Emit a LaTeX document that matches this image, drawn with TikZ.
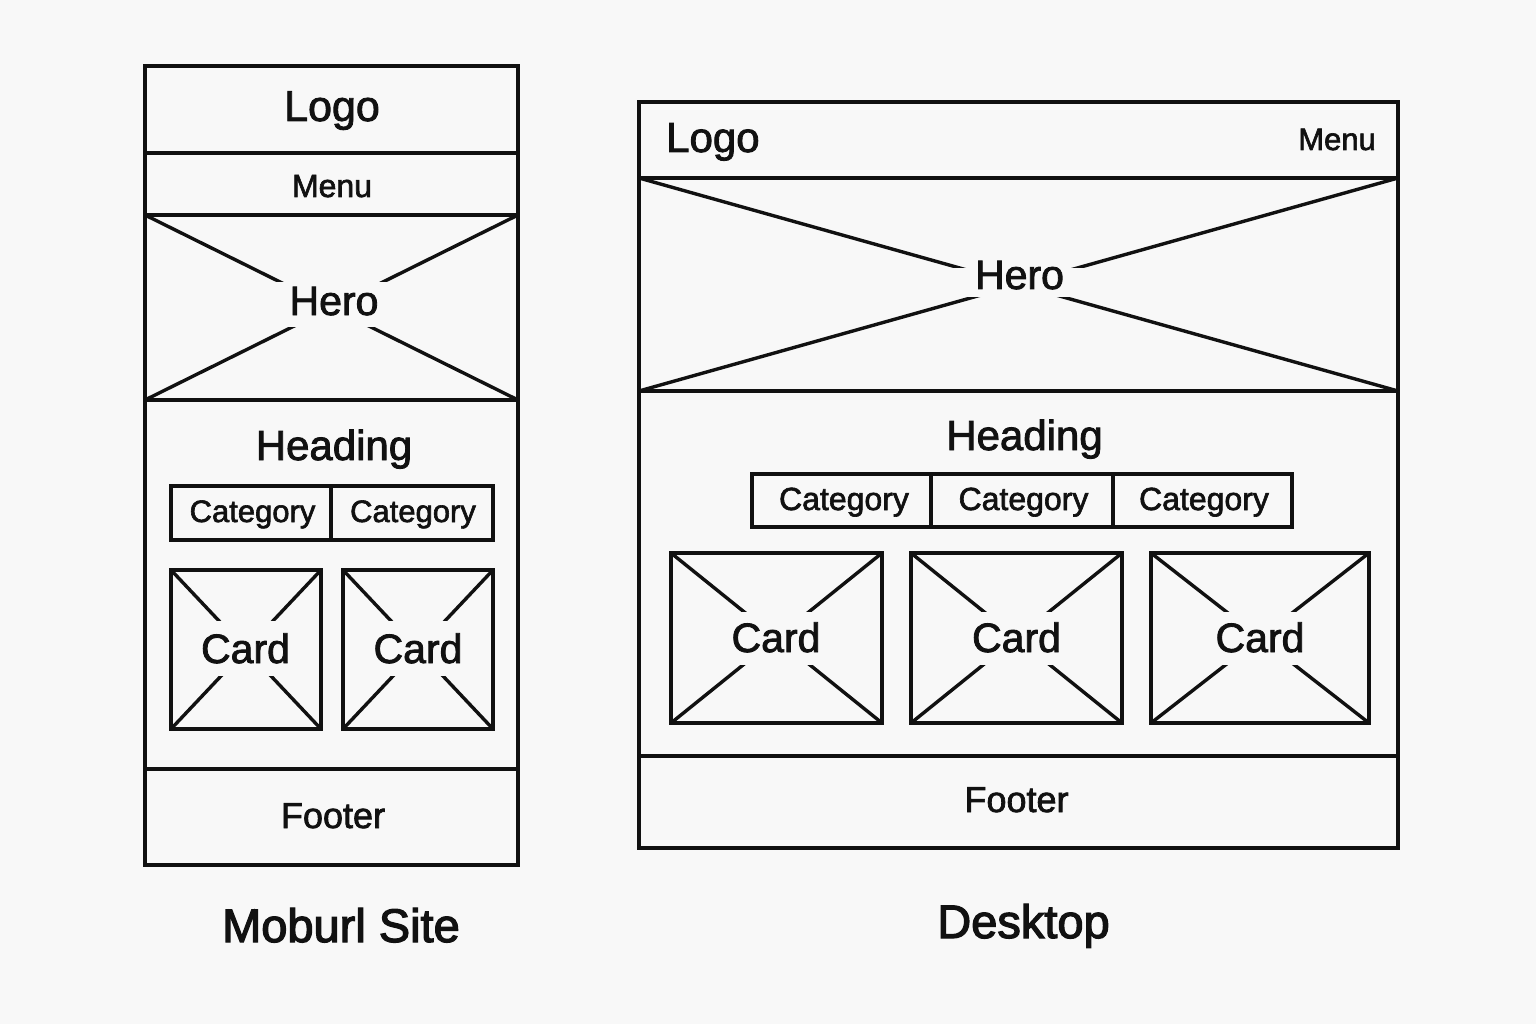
\documentclass[tikz,border=0pt]{standalone}
\usepackage{fontspec}
\setmainfont{Liberation Sans}
\newfontfamily\wf{Liberation Sans}[FakeBold=2]
\newfontfamily\lf{Liberation Sans}[FakeBold=2.6]
\definecolor{bg}{HTML}{F8F8F8}
\definecolor{ink}{HTML}{111111}
\begin{document}
\begin{tikzpicture}[x=1pt,y=-1pt,
  frame/.style={draw=ink,line width=3.4pt,line join=miter},
  gap/.style={fill=bg},
  txt/.style={inner sep=0pt,anchor=base,text=ink},
  fs/.style={font=\wf\fontsize{#1}{#1}\selectfont},
  ls/.style={font=\lf\fontsize{#1}{#1}\selectfont}]
\fill[bg] (0,0) rectangle (1536,1024);
\useasboundingbox (0,0) rectangle (1536,1024);

% ---------------- Mobile ----------------
\draw[frame] (145,66) rectangle (518,865);
\draw[frame] (145,153) -- (518,153);
\draw[frame] (145,215) -- (518,215);
\draw[frame] (145,400) -- (518,400);
\draw[frame] (145,769) -- (518,769);
% hero cross
\draw[frame] (145,215) -- (518,400);
\draw[frame] (145,400) -- (518,215);
\fill[gap] (260,282) rectangle (405,327);
% categories
\draw[frame] (171,486) rectangle (493,540);
\draw[frame] (331,486) -- (331,540);
% cards
\draw[frame] (171,570) rectangle (321,729);
\draw[frame] (171,570) -- (321,729);
\draw[frame] (171,729) -- (321,570);
\fill[gap] (195,621) rectangle (297,676);
\draw[frame] (343,570) rectangle (493,729);
\draw[frame] (343,570) -- (493,729);
\draw[frame] (343,729) -- (493,570);
\fill[gap] (367,621) rectangle (469,676);

\node[txt,fs=43] (mlogo) at (332,121) {Logo};
\node[txt,fs=32] (mmenu) at (332,197) {Menu};
\node[txt,fs=41] (mhero) at (334,315) {Hero};
\node[txt,fs=42] (mhead) at (334,460) {Heading};
\node[txt,fs=31] (mcat1) at (252.5,522) {Category};
\node[txt,fs=31] (mcat2) at (413,522) {Category};
\node[txt,fs=41] (mcard1) at (245.5,663) {Card};
\node[txt,fs=41] (mcard2) at (418,663) {Card};
\node[txt,fs=36] (mfoot) at (333,828) {Footer};
\node[txt,ls=47] (mlabel) at (341,942) {Moburl Site};

% ---------------- Desktop ----------------
\draw[frame] (639,102) rectangle (1398,848);
\draw[frame] (639,178) -- (1398,178);
\draw[frame] (639,391) -- (1398,391);
\draw[frame] (639,756) -- (1398,756);
% hero cross
\draw[frame] (639,178) -- (1398,391);
\draw[frame] (639,391) -- (1398,178);
\fill[gap] (930,268) rectangle (1110,297);
% categories
\draw[frame] (752,474) rectangle (1292,527);
\draw[frame] (931,474) -- (931,527);
\draw[frame] (1113,474) -- (1113,527);
% cards
\draw[frame] (671,553) rectangle (882,723);
\draw[frame] (671,553) -- (882,723);
\draw[frame] (671,723) -- (882,553);
\fill[gap] (715,612) rectangle (840,665);
\draw[frame] (911,553) rectangle (1122,723);
\draw[frame] (911,553) -- (1122,723);
\draw[frame] (911,723) -- (1122,553);
\fill[gap] (955,612) rectangle (1080,665);
\draw[frame] (1151,553) rectangle (1369,723);
\draw[frame] (1151,553) -- (1369,723);
\draw[frame] (1151,723) -- (1369,553);
\fill[gap] (1195,612) rectangle (1325,665);

\node[txt,fs=42,anchor=base west] (dlogo) at (666,152) {Logo};
\node[txt,fs=31,anchor=base east] (dmenu) at (1376,150) {Menu};
\node[txt,fs=41] (dhero) at (1019.5,289) {Hero};
\node[txt,fs=42] (dhead) at (1024.5,450) {Heading};
\node[txt,fs=32] (dcat1) at (844,510) {Category};
\node[txt,fs=32] (dcat2) at (1023.5,510) {Category};
\node[txt,fs=32] (dcat3) at (1204,510) {Category};
\node[txt,fs=41] (dcard1) at (776,652) {Card};
\node[txt,fs=41] (dcard2) at (1016.5,652) {Card};
\node[txt,fs=41] (dcard3) at (1260,652) {Card};
\node[txt,fs=36] (dfoot) at (1016.5,812) {Footer};
\node[txt,ls=47] (dlabel) at (1023.5,938) {Desktop};
\end{tikzpicture}
\end{document}
